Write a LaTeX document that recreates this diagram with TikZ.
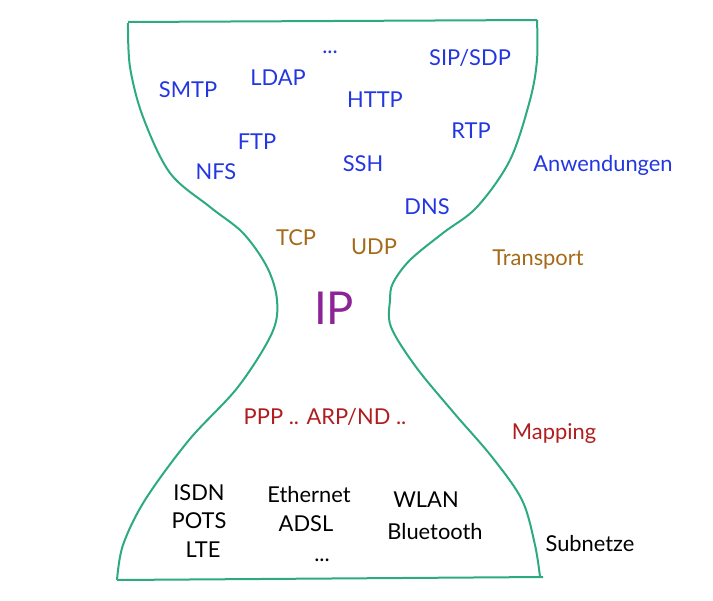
\documentclass[tikz,border=0pt]{standalone}
\usepackage{fontspec}
\setmainfont{Lato}
\usepackage{tikz}
\usetikzlibrary{calc}

\definecolor{glass}{RGB}{45,170,130}
\definecolor{appl}{RGB}{35,55,225}
\definecolor{trans}{RGB}{165,105,25}
\definecolor{netw}{RGB}{140,35,150}
\definecolor{mapp}{RGB}{175,30,30}

\tikzset{
  lbl/.style={inner sep=0pt, font=\fontsize{16.4}{19}\selectfont},
  app/.style={lbl, text=appl},
  tra/.style={lbl, text=trans},
  map/.style={lbl, text=mapp},
  sub/.style={lbl, text=black},
  rim/.style={glass, line width=1.5pt},
}

\begin{document}
\begin{tikzpicture}[x=0.75pt,y=-0.75pt]
\useasboundingbox (0,0) rectangle (713,600);
% hour glass
\draw [rim] (128,22) -- (537,20);
\draw [rim] (117,580) -- (543,577);
\draw [rim] plot [smooth, tension=0.55] coordinates {(128,23) (130,67) (143,117) (170,173) (210,207) (243,233) (267,267) (277,300) (272,333) (238,387) (189,440) (145,500) (123,545) (117,580)};
\draw [rim] plot [smooth, tension=0.55] coordinates {(537,20) (537,60) (530,100) (510,160) (477,207) (443,233) (410,260) (393,283) (390,300) (391,327) (416,367) (454,413) (492,457) (522,500) (535,545) (540,577)};
% applications
\node (dots) at (330,52) [app] {...};
\node (sip) at (470,58) [app] {SIP/SDP};
\node (smtp) at (188,90) [app] {SMTP};
\node (ldap) at (278,78) [app] {LDAP};
\node (http) at (375,100) [app] {HTTP};
\node (rtp) at (471,131) [app] {RTP};
\node (ftp) at (257,142) [app] {FTP};
\node (nfs) at (216,172) [app] {NFS};
\node (ssh) at (363,164) [app] {SSH};
\node (dns) at (427,207) [app] {DNS};
\node (anw) at (603,165) [app] {Anwendungen};
% transport
\node (tcp) at (296,238) [tra] {TCP};
\node (udp) at (374,247) [tra] {UDP};
\node (tra) at (538,260) [tra] {Transport};
% ip
\node (ip) at (334,308) [inner sep=0pt, text=netw, font=\fontsize{34}{38}\selectfont] {IP};
% mapping
\node (arp) at (325,417) [map] {PPP .. ARP/ND ..};
\node (mapping) at (554,434) [map] {Mapping};
% subnets
\node (isdn) at (199,493) [sub] {ISDN};
\node (pots) at (199,521) [sub] {POTS};
\node (lte) at (203,550) [sub] {LTE};
\node (eth) at (309,495) [sub] {Ethernet};
\node (adsl) at (306,524) [sub] {ADSL};
\node (sdots) at (322,560) [sub] {...};
\node (wlan) at (426,500) [sub] {WLAN};
\node (bt) at (435,532) [sub] {Bluetooth};
\node (subn) at (590,544) [sub] {Subnetze};
\end{tikzpicture}
\end{document}
